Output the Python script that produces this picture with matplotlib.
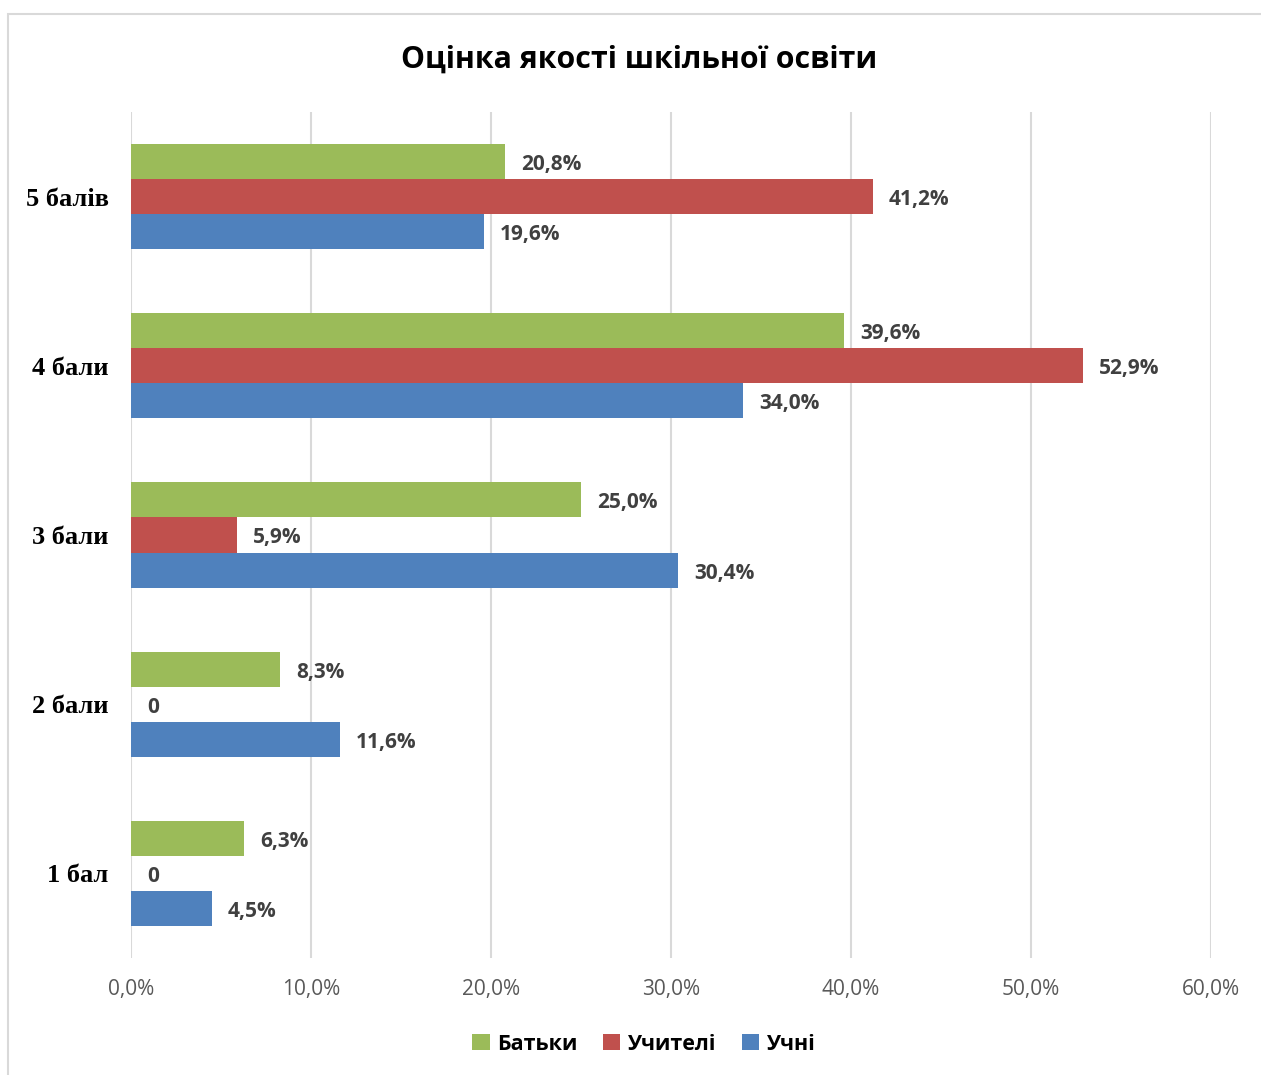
import numpy as np
import matplotlib
matplotlib.use("Agg")
import matplotlib.pyplot as plt
from matplotlib.patches import Rectangle, Patch
from matplotlib.ticker import FuncFormatter

# ==============================
# Data
# ==============================
categories = ["1 бал", "2 бали", "3 бали", "4 бали", "5 балів"]
series_names = ["Батьки", "Учителі", "Учні"]
batky = [6.3, 8.3, 25.0, 39.6, 20.8]
uchyteli = [0.0, 0.0, 5.9, 52.9, 41.2]
uchni = [4.5, 11.6, 30.4, 34.0, 19.6]
colors = ["#9BBB59", "#C0504D", "#4F81BD"]
x_ticks = [0, 10, 20, 30, 40, 50, 60]

W, H = 1261, 1075
fig = plt.figure(figsize=(W / 100, H / 100), dpi=100)
ax = fig.add_axes([131 / W, 1 - 958 / H, (1211 - 131) / W, (958 - 112) / H])

y = np.arange(len(categories))
bh = 0.207
offsets = [bh, 0.0, -bh]

for vals, off, col in zip([batky, uchyteli, uchni], offsets, colors):
    bars = ax.barh(y + off, vals, height=bh, color=col, zorder=3)
    for b, v in zip(bars, vals):
        txt = "0" if v == 0 else f"{v:.1f}%".replace(".", ",")
        ax.annotate(txt, (b.get_width(), b.get_y() + b.get_height() / 2),
                    xytext=(16, -3), textcoords="offset pixels",
                    ha="left", va="center", fontsize=15, fontweight="bold",
                    color="#404040", family="Open Sans")

ax.set_xlim(0, 60)
ax.set_ylim(-0.5, len(categories) - 0.5)
ax.set_xticks(x_ticks)
ax.xaxis.set_major_formatter(FuncFormatter(lambda v, p: f"{v:.1f}%".replace(".", ",")))
ax.set_yticks(y)
ax.set_yticklabels(categories, family="Liberation Serif", fontweight="bold", fontsize=19)
ax.tick_params(axis="y", length=0, pad=16, colors="black")
ax.tick_params(axis="x", length=0, pad=15, labelsize=15, labelcolor="#595959")
for lbl in ax.get_xticklabels():
    lbl.set_family("Open Sans")
ax.grid(axis="x", color="#D9D9D9", linewidth=1.5, zorder=0)
for s in ax.spines.values():
    s.set_visible(False)

fig.text(639 / W, 1 - 60 / H, "Оцінка якості шкільної освіти", ha="center", va="center",
         fontsize=21.8, fontweight="bold", family="Open Sans")

handles = [Patch(facecolor=c, label=n) for c, n in zip(colors, series_names)]
fig.legend(handles=handles, loc="center", bbox_to_anchor=(644 / W, 1 - 1044 / H),
           ncol=3, frameon=False, handlelength=0.8, handleheight=0.8,
           handletextpad=0.35, columnspacing=1.2,
           prop={"family": "Open Sans", "weight": "bold", "size": 15.5})

fig.add_artist(Rectangle((8 / W, -0.01), 1.0, 1 - 14 / H + 0.01, transform=fig.transFigure,
                         fill=False, edgecolor="#D9D9D9", linewidth=1.5))

fig.savefig("out.png", dpi=100)
